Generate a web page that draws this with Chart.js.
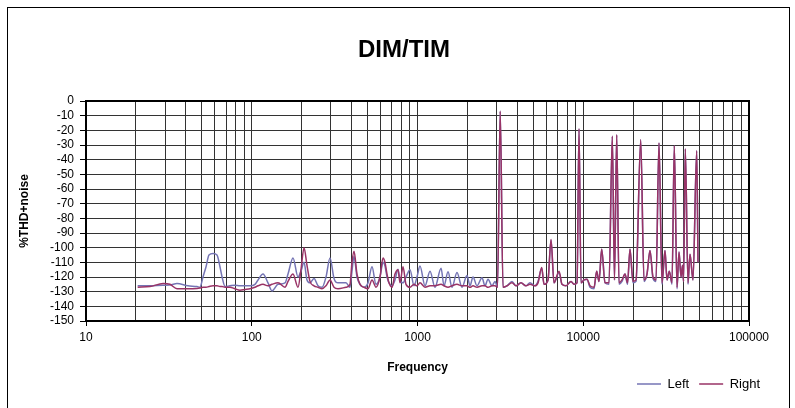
<!DOCTYPE html>
<html>
<head>
<meta charset="utf-8">
<script src="https://cdn.jsdelivr.net/npm/chart.js@4.4.0/dist/chart.umd.min.js"></script>
<style>
  html, body { margin: 0; padding: 0; background: #fff; }
  #wrap { width: 795px; height: 408px; }
</style>
</head>
<body>
<div id="wrap"><canvas id="myChart" width="795" height="408"></canvas></div>
<script>
// frequency points (Hz)
const freq = [
  20.5, 24.3, 29.2, 32.1, 35.4, 41.2, 46.7, 48.7, 50.8, 53.0, 55.2, 58.4, 61.7, 64.3, 66.2, 69.0,
  73.9, 79.2, 84.9, 91.1, 97.6, 104.6, 109.1, 116.9, 125.3, 132.5, 144.0, 158.7, 165.5, 177.4,
  190.1, 198.2, 206.7, 215.4, 224.6, 237.5, 251.0, 265.4, 280.5, 296.6, 313.5, 331.4, 370.4,
  391.5, 402.5, 413.9, 431.5, 450.0, 475.6, 502.8, 531.5, 561.8, 593.9, 619.2, 636.6, 654.6,
  673.1, 701.8, 731.7, 762.8, 784.2, 817.6, 852.4, 901.2, 952.6, 993.1, 1035, 1110, 1190, 1275,
  1387, 1445, 1528, 1615, 1731, 1856, 1989, 2074, 2162, 2286, 2450, 2554, 2663, 2815, 2935,
  3039, 3155, 3280, 3467, 3716, 3929, 4211, 4514, 4772, 5116, 5334, 5616, 5799, 6130, 6391,
  6663, 7142, 7446, 7871, 8438, 8797, 9172, 9429, 9692, 10104, 10534, 10982, 11611, 12053,
  12445, 12921, 13527, 14302, 14973, 15435, 15915, 16433, 17133, 17862, 18493, 19143, 19961,
  20812, 22217, 23259, 24248, 25280, 26356, 27478, 28643, 29864, 31136, 32015, 33056, 34313,
  35430, 36785, 37824, 38886, 39709, 40262, 41285, 42855, 44056, 45931, 48362, 49239
];

const leftDb = [
  -126, -126, -125.6, -125.5, -124.5, -126, -126.5, -127, -120, -113, -105, -104, -105, -113, -120, -126.5,
  -126, -125.6, -126, -126, -126, -125, -122, -118, -124, -129.5, -125, -124, -118, -107,
  -120, -116, -110, -122, -124, -121, -126, -127, -120, -107, -121, -124, -124,
  -127, -116, -106, -120, -125, -127, -124, -113, -125, -120, -110, -112.5, -120,
  -124, -126, -122, -114.7, -122, -124, -120, -115, -126, -120, -112.5, -126, -116, -127,
  -114, -126, -116.5, -127, -117, -127, -119, -126, -120, -126, -120.5, -126, -121.5, -126, -123,
  -127, -7, -127, -126, -123, -126, -124, -126, -124, -126, -123, -114, -125, -122, -95,
  -124, -117, -125, -126, -123, -125, -124, -19, -124, -122, -121.5, -127, -128, -116,
  -123, -101, -124, -125, -24, -122, -23, -125, -123, -118, -125, -101, -124,
  -123, -26.5, -123, -118, -102, -121, -123, -28.7, -125, -102, -122, -116, -125,
  -30.5, -128, -103, -120, -112, -123, -32.8, -125, -104.5, -122, -34, -110
];

const rightDb = [
  -127, -126.5, -124.5, -125, -128, -128, -127.8, -127.5, -127, -127, -126.5, -126, -126, -126.5, -126.5, -127,
  -127, -128, -129, -128.5, -128, -127, -126, -125, -126, -125, -124, -127, -123, -118,
  -127, -115, -100, -112, -123, -126, -127, -128, -126, -122, -127, -128, -127,
  -125, -110, -102.5, -118, -125, -127, -128, -122, -127, -120, -107, -110, -118,
  -124, -127, -118, -115, -124, -113, -125, -127, -125, -126, -124, -127, -126, -126,
  -125, -126, -127, -126, -125, -126, -126, -127, -126, -127, -126, -126, -127, -126, -126,
  -127, -7, -127, -126, -124, -126, -124, -126, -125, -126, -124, -113.5, -125, -122, -94.5,
  -124, -116, -125, -126, -123, -125, -124, -19, -124, -122, -121.5, -126, -127, -116,
  -123, -101, -124, -124, -24, -122, -23, -124, -122, -118, -124, -101, -123,
  -122, -26.5, -122, -118, -102, -120, -122, -28.7, -124, -102, -122, -116, -124,
  -30.5, -127, -103, -120, -112, -123, -32.8, -124, -104.5, -122, -34, -110
];

const seriesNames = ['Left', 'Right'];
const decades = [10, 100, 1000, 10000, 100000];
const minorSteps = [1, 2, 3, 4, 5, 6, 7, 8, 9];

const xTickValues = [];
decades.forEach(d => {
  if (d === 100000) { xTickValues.push(d); return; }
  minorSteps.forEach(m => xTickValues.push(d * m));
});

Chart.defaults.font.family = 'Arial, "Liberation Sans", sans-serif';
Chart.defaults.color = '#000';

const framePlugin = {
  id: 'frame',
  beforeDraw(chart) {
    const ctx = chart.ctx;
    ctx.save();
    ctx.fillStyle = '#fff';
    ctx.fillRect(0, 0, chart.width, chart.height);
    ctx.strokeStyle = '#000';
    ctx.lineWidth = 1;
    ctx.strokeRect(7.5, 7.5, 782, 420);
    ctx.restore();
  },
  afterDraw(chart) {
    const a = chart.chartArea;
    const ctx = chart.ctx;
    ctx.save();
    ctx.strokeStyle = '#000';
    ctx.lineWidth = 2;
    ctx.strokeRect(a.left, a.top, a.right - a.left, a.bottom - a.top);
    ctx.restore();
  }
};

const ctx = document.getElementById('myChart').getContext('2d');
new Chart(ctx, {
  type: 'line',
  data: {
    datasets: [
      {
        label: seriesNames[0],
        data: freq.map((f, i) => ({ x: f, y: leftDb[i] })),
        borderColor: '#7474B4',
        backgroundColor: '#7474B4',
        borderWidth: 1.5,
        pointRadius: 0,
        cubicInterpolationMode: 'monotone',
        order: 2
      },
      {
        label: seriesNames[1],
        data: freq.map((f, i) => ({ x: f, y: rightDb[i] })),
        borderColor: '#993366',
        backgroundColor: '#993366',
        borderWidth: 1.5,
        pointRadius: 0,
        cubicInterpolationMode: 'monotone',
        order: 1
      }
    ]
  },
  options: {
    responsive: false,
    devicePixelRatio: 1,
    animation: false,
    events: [],
    layout: { padding: { left: 38, right: 25, top: 0, bottom: 7.5 } },
    plugins: {
      title: {
        display: true,
        text: 'DIM/TIM',
        font: { size: 24, weight: 'bold' },
        color: '#000',
        padding: { top: 35.6, bottom: 36.6 }
      },
      legend: {
        position: 'bottom',
        align: 'end',
        labels: {
          usePointStyle: true,
          pointStyle: 'line',
          pointStyleWidth: 24,
          font: { size: 13 },
          color: '#000',
          padding: 10,
          sort: (a, b) => a.datasetIndex - b.datasetIndex
        }
      },
      tooltip: { enabled: false }
    },
    scales: {
      x: {
        type: 'logarithmic',
        position: 'bottom',
        min: 10,
        max: 100000,
        afterBuildTicks: s => { s.ticks = xTickValues.map(v => ({ value: v })); },
        afterFit: s => { s.height = 46.5; },
        ticks: {
          autoSkip: false,
          maxRotation: 0,
          font: { size: 12 },
          color: '#000',
          padding: 4,
          callback: v => decades.includes(v) ? String(v) : ''
        },
        grid: {
          color: '#333',
          lineWidth: 1,
          tickLength: 5,
          tickColor: c => (c.tick && decades.includes(c.tick.value)) ? '#000' : 'rgba(0,0,0,0)'
        },
        border: { display: false },
        title: {
          display: true,
          text: 'Frequency',
          font: { size: 12, weight: 'bold' },
          color: '#000',
          padding: { top: 0, bottom: -7.7 }
        }
      },
      y: {
        type: 'linear',
        position: 'left',
        min: -150,
        max: 0,
        afterFit: s => { s.width = 48; },
        ticks: {
          stepSize: 10,
          autoSkip: false,
          font: { size: 12 },
          color: '#000',
          padding: 6
        },
        grid: { color: '#333', lineWidth: 1, tickLength: 6, tickColor: '#000' },
        border: { display: false },
        title: {
          display: true,
          text: '%THD+noise',
          font: { size: 12, weight: 'bold' },
          color: '#000',
          padding: { top: -20.2, bottom: 0 }
        }
      },
      yRight: {
        type: 'linear',
        position: 'right',
        axis: 'y',
        afterFit: s => { s.width = 21; },
        grid: { display: false },
        border: { display: false },
        ticks: { display: false },
        title: { display: false }
      }
    }
  },
  plugins: [framePlugin]
});
</script>
</body>
</html>
